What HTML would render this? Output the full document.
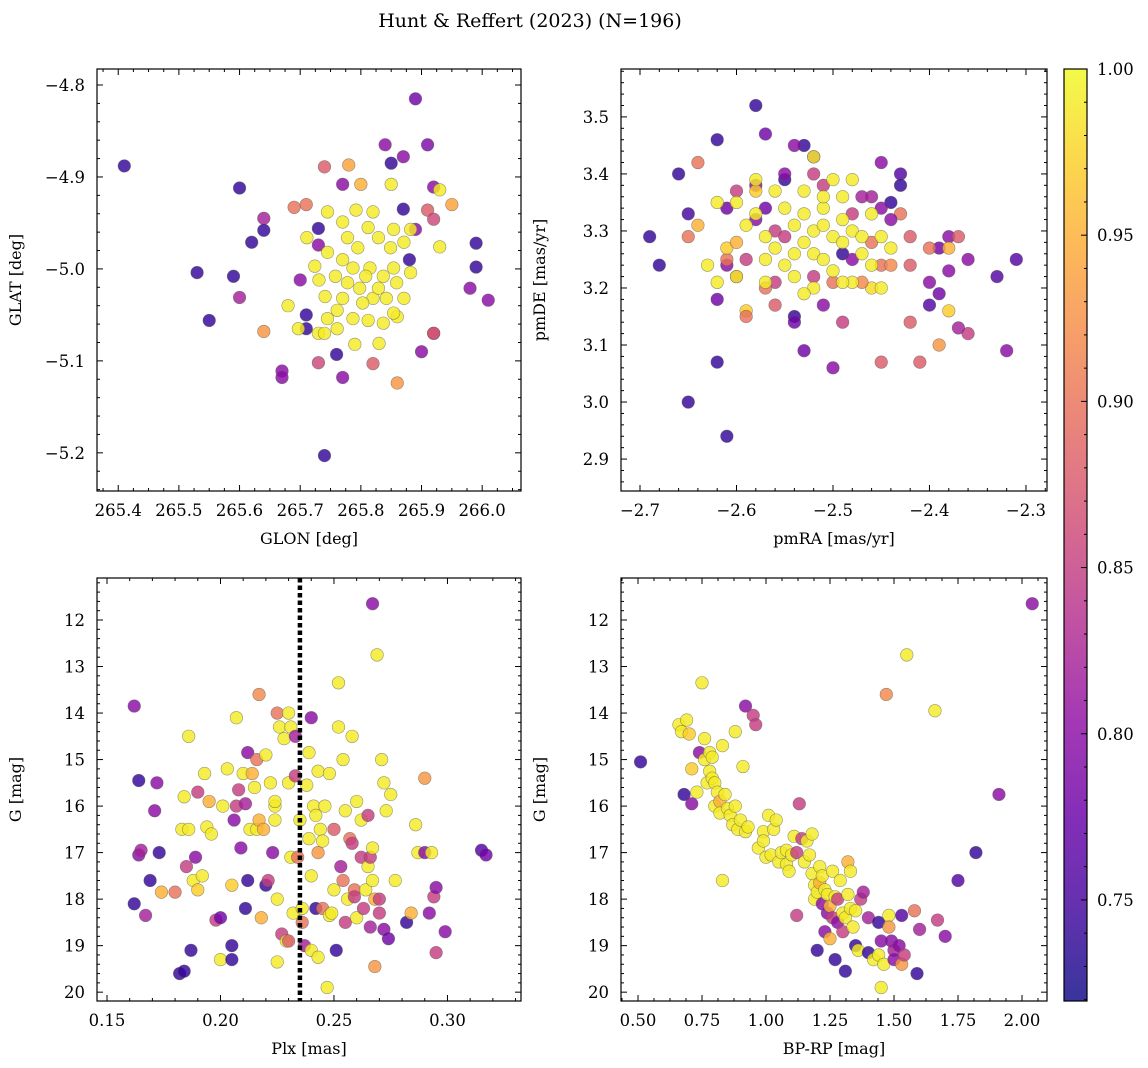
<!DOCTYPE html>
<html><head><meta charset="utf-8"><style>
html,body{margin:0;padding:0;background:#fff;}
svg{display:block;font-family:"DejaVu Serif","Liberation Serif",serif;}
</style></head><body>
<svg id="fig" width="1148" height="1068" xmlns="http://www.w3.org/2000/svg">
<text x="530" y="27" text-anchor="middle" font-size="19">Hunt &amp; Reffert (2023) (N=196)</text>
</svg>
<script>
// Panel 1: GLON vs GLAT
const p1x=[265.41,265.89,265.91,265.60,265.55,265.53,265.59,265.60,265.62,265.64,265.64,265.64,265.67,265.67,265.74,265.69,265.71,265.70,265.68,265.71,265.71,265.73,265.74,265.73,265.73,265.74,265.78,265.77,265.80,265.73,265.76,265.77,265.79,265.82,265.84,265.85,265.87,265.85,265.86,265.87,265.89,265.88,265.92,265.93,265.95,265.91,265.92,265.93,265.99,265.99,265.98,266.01,265.90,265.92,265.92,265.86,265.83,
265.745,265.770,265.792,265.812,265.829,265.854,265.871,265.882,265.871,265.854,265.837,265.812,265.787,265.761,265.741,265.731,265.724,265.745,265.770,265.795,265.815,265.837,265.859,265.842,265.820,265.798,265.778,265.758,265.787,265.808,265.829,265.854,265.778,265.803,265.770,265.745,265.820,265.849,265.761,265.697,265.882,265.711];
const p1y=[-4.888,-4.815,-4.865,-4.912,-5.056,-5.004,-5.008,-5.031,-4.971,-4.945,-4.958,-5.068,-5.111,-5.118,-5.203,-4.933,-4.930,-5.012,-5.040,-5.050,-5.065,-5.070,-5.070,-4.956,-4.974,-4.889,-4.887,-4.908,-4.908,-5.102,-5.093,-5.118,-5.082,-5.103,-4.865,-4.885,-4.878,-4.908,-5.124,-4.935,-4.957,-4.990,-4.911,-4.914,-4.930,-4.936,-4.946,-4.976,-4.972,-4.998,-5.021,-5.034,-5.090,-5.070,-5.070,-5.052,-5.081,
-4.938,-4.949,-4.936,-4.955,-4.966,-4.957,-4.971,-5.004,-5.032,-5.048,-5.059,-5.056,-5.054,-5.045,-5.030,-5.012,-4.997,-4.982,-4.990,-4.977,-4.999,-5.008,-5.015,-5.032,-5.032,-5.021,-5.015,-5.008,-4.999,-5.008,-5.021,-4.999,-4.966,-5.037,-5.032,-5.054,-4.938,-4.977,-5.065,-5.065,-4.957,-4.966];
const p1p=[.74,.78,.79,.74,.74,.74,.74,.82,.74,.82,.74,.93,.8,.8,.74,.9,.9,.8,.99,.74,.74,.99,.99,.74,.8,.88,.94,.8,.95,.86,.74,.8,.99,.88,.8,.74,.8,.99,.93,.74,.8,.74,.8,.99,.94,.88,.86,.99,.74,.74,.8,.8,.8,.8,.88,.99,.99,
.99,.99,.99,.99,.99,.99,.99,.99,.99,.99,.99,.99,.99,.99,.99,.99,.99,.99,.99,.99,.99,.99,.99,.99,.99,.99,.99,.99,.99,.99,.99,.99,.99,.99,.99,.99,.99,.99,.99,.99,.99,.99];
// Panel 2: pmRA vs pmDE
const p2x=[-2.69,-2.68,-2.66,-2.65,-2.64,-2.65,-2.64,-2.65,-2.61,-2.62,-2.62,-2.62,-2.58,-2.57,-2.53,-2.52,-2.54,-2.60,-2.61,-2.61,-2.60,-2.58,-2.55,-2.54,-2.54,-2.53,-2.50,-2.49,-2.45,-2.41,-2.39,-2.36,-2.32,-2.31,-2.33,-2.36,-2.38,-2.37,-2.38,-2.37,-2.39,-2.40,-2.42,-2.42,-2.42,-2.40,-2.39,-2.43,-2.43,-2.44,-2.45,-2.45,-2.46,-2.43,-2.44,-2.45,-2.46,-2.38,-2.38,-2.40,-2.47,-2.48,-2.49,-2.51,-2.52,-2.55,-2.57,-2.58,-2.56,-2.55,-2.56,-2.56,-2.57,-2.59,-2.61,-2.61,-2.59,-2.59,-2.60,-2.58,-2.51,-2.52,-2.50,-2.47,-2.48,-2.46,-2.44,
-2.63,-2.62,-2.60,-2.59,-2.58,-2.57,-2.57,-2.56,-2.55,-2.54,-2.54,-2.53,-2.53,-2.53,-2.52,-2.52,-2.52,-2.51,-2.51,-2.51,-2.50,-2.50,-2.50,-2.49,-2.49,-2.49,-2.48,-2.48,-2.47,-2.47,-2.46,-2.46,-2.45,-2.45,-2.44,-2.53,-2.55,-2.56,-2.58,-2.52,-2.60,-2.62,-2.54,-2.57,-2.49,-2.51,-2.48];
const p2y=[3.29,3.24,3.40,3.33,3.42,3.29,3.31,3.00,2.94,3.07,3.18,3.46,3.52,3.47,3.45,3.43,3.45,3.37,3.34,3.24,3.22,3.38,3.39,3.15,3.14,3.09,3.06,3.14,3.07,3.07,3.10,3.12,3.09,3.25,3.22,3.25,3.23,3.13,3.29,3.29,3.19,3.21,3.14,3.24,3.29,3.17,3.27,3.40,3.38,3.35,3.42,3.34,3.36,3.33,3.32,3.24,3.20,3.27,3.16,3.27,3.36,3.33,3.26,3.38,3.40,3.40,3.34,3.32,3.30,3.29,3.21,3.17,3.20,3.25,3.25,3.27,3.16,3.15,3.28,3.37,3.17,3.22,3.21,3.21,3.25,3.28,3.24,
3.24,3.35,3.35,3.31,3.33,3.29,3.25,3.27,3.24,3.22,3.31,3.37,3.33,3.28,3.30,3.26,3.20,3.34,3.31,3.25,3.23,3.29,3.39,3.36,3.32,3.28,3.30,3.21,3.29,3.26,3.33,3.24,3.29,3.20,3.27,3.19,3.34,3.37,3.39,3.43,3.22,3.21,3.26,3.21,3.21,3.36,3.39];
const p2p=[.74,.74,.74,.75,.9,.9,.95,.74,.74,.74,.78,.74,.74,.78,.74,.8,.8,.85,.78,.8,.85,.8,.74,.74,.78,.78,.8,.85,.88,.88,.93,.85,.8,.76,.76,.8,.8,.82,.8,.88,.78,.8,.88,.88,.88,.76,.78,.76,.74,.74,.8,.8,.82,.9,.8,.9,.98,.95,.97,.9,.82,.85,.74,.85,.85,.8,.78,.8,.85,.85,.85,.88,.9,.85,.9,.97,.97,.9,.95,.97,.8,.85,.9,.92,.8,.9,.92,
.99,.99,.99,.99,.99,.99,.99,.99,.99,.99,.99,.99,.99,.99,.99,.99,.99,.99,.99,.99,.99,.99,.99,.99,.99,.99,.99,.99,.99,.99,.99,.99,.99,.99,.99,.99,.99,.99,.99,.99,.99,.99,.99,.99,.99,.99,.99];
// Panel 3: Plx vs G
const p3x=[0.162,0.162,0.164,0.164,0.165,0.167,0.169,0.171,0.172,0.173,0.174,0.180,0.182,0.184,0.183,0.186,0.184,0.186,0.187,0.188,0.189,0.185,0.190,0.190,0.192,0.193,0.194,0.195,0.196,0.198,0.200,0.200,0.201,0.203,0.205,0.205,0.205,0.206,0.207,0.207,0.208,0.209,0.210,0.211,0.211,0.212,0.212,0.213,0.214,0.215,0.216,0.216,0.217,0.217,0.218,0.219,0.220,0.220,0.221,0.222,0.223,0.224,0.224,0.224,0.225,0.225,0.225,0.226,0.227,0.228,0.229,0.230,0.231,0.230,0.230,0.231,0.232,0.233,0.233,0.234,0.235,0.236,0.236,0.237,0.238,0.239,0.239,0.240,0.240,0.240,0.241,0.242,0.242,0.243,0.243,0.243,0.244,0.245,0.245,0.246,0.247,0.248,0.248,0.249,0.250,0.250,0.251,0.252,0.252,0.253,0.254,0.254,0.255,0.255,0.256,0.257,0.258,0.258,0.259,0.259,0.260,0.260,0.262,0.262,0.263,0.264,0.265,0.265,0.266,0.266,0.267,0.267,0.267,0.268,0.268,0.269,0.270,0.270,0.271,0.272,0.272,0.273,0.274,0.275,0.277,0.282,0.284,0.286,0.287,0.290,0.290,0.292,0.293,0.294,0.295,0.295,0.299,0.315,0.317];
const p3y=[13.85,18.1,15.45,17.05,16.95,18.35,17.6,16.1,15.5,17.0,17.85,17.85,19.6,19.55,16.5,16.5,15.8,14.5,19.1,17.6,17.1,17.3,15.7,17.8,17.5,15.3,16.45,15.9,16.6,18.45,18.4,19.3,16.0,15.2,17.7,19.0,19.3,16.3,14.1,16.0,15.65,16.9,15.3,15.95,18.2,17.6,14.85,16.5,15.3,15.6,15.0,16.5,16.3,13.6,18.4,16.5,14.9,17.7,17.6,15.5,17.0,16.3,16.0,15.9,19.35,18.0,14.0,14.3,18.75,14.55,18.9,14.0,14.3,15.5,18.9,17.1,18.3,14.5,15.35,17.1,16.3,18.5,18.2,19.0,15.55,14.85,16.7,14.1,19.1,17.5,16.0,16.2,18.2,19.25,15.25,17.0,16.5,18.2,16.75,16.0,19.9,15.3,18.35,18.3,17.8,16.5,19.1,14.3,13.35,17.3,17.6,15.0,16.1,18.5,18.0,16.7,16.8,14.5,17.8,17.95,15.9,18.4,16.3,17.1,18.2,17.8,17.3,16.2,18.6,17.1,17.6,16.9,11.65,19.45,18.0,12.75,18.3,18.0,15.0,15.5,18.65,16.1,18.85,15.75,17.6,18.5,18.3,16.4,17.0,15.4,17.0,18.3,17.0,17.95,17.75,19.15,18.7,16.95,17.05];
const p3p=[.8,.74,.74,.8,.82,.82,.74,.8,.8,.74,.95,.9,.74,.74,.99,.99,.99,.99,.74,.99,.8,.85,.85,.97,.99,.99,.99,.95,.99,.85,.78,.99,.99,.99,.97,.74,.74,.8,.99,.85,.85,.8,.99,.82,.74,.74,.8,.99,.95,.99,.9,.99,.95,.92,.95,.95,.99,.74,.85,.99,.8,.99,.99,.99,.99,.99,.9,.99,.85,.99,.99,.99,.99,.99,.88,.99,.99,.82,.85,.9,.99,.9,.99,.82,.99,.99,.99,.8,.99,.99,.99,.99,.74,.99,.99,.93,.99,.9,.99,.99,.99,.99,.99,.99,.99,.88,.74,.99,.99,.82,.9,.99,.99,.85,.99,.9,.85,.99,.9,.85,.99,.99,.99,.85,.85,.99,.99,.85,.82,.85,.99,.99,.8,.93,.95,.99,.85,.85,.99,.99,.8,.99,.78,.99,.99,.74,.95,.99,.99,.93,.8,.8,.99,.85,.8,.85,.8,.76,.78];
// Panel 4: BP-RP vs G
const p4x=[0.51,0.66,0.67,0.69,0.70,0.68,0.71,0.71,0.73,0.74,0.75,0.76,0.76,0.77,0.78,0.78,0.79,0.79,0.80,0.80,0.81,0.82,0.82,0.83,0.83,0.84,0.85,0.86,0.87,0.88,0.88,0.89,0.90,0.91,0.92,0.92,0.93,0.95,0.96,0.97,0.99,0.99,1.00,1.01,1.02,1.03,1.04,1.05,1.06,1.08,1.08,1.09,1.10,1.11,1.12,1.12,1.13,1.14,1.15,1.16,1.17,1.18,1.18,1.19,1.19,1.20,1.20,1.21,1.21,1.22,1.22,1.23,1.23,1.24,1.24,1.25,1.25,1.26,1.26,1.27,1.27,1.28,1.28,1.29,1.30,1.30,1.31,1.31,1.32,1.32,1.33,1.33,1.34,1.35,1.35,1.36,1.37,1.38,1.40,1.40,1.42,1.44,1.44,1.45,1.45,1.46,1.47,1.48,1.48,1.49,1.50,1.50,1.52,1.53,1.53,1.54,1.55,1.58,1.59,1.60,1.66,1.67,1.70,1.75,1.82,1.91,2.04];
const p4y=[15.05,14.25,14.4,14.15,14.45,15.75,15.95,15.2,15.7,14.85,13.35,14.55,15.0,15.5,14.85,15.25,15.4,14.95,15.5,16.0,15.7,15.9,16.15,17.6,14.7,15.75,16.05,16.2,16.4,16.0,14.4,16.5,16.3,15.15,13.85,16.55,16.45,14.05,14.25,16.9,16.55,16.75,17.1,16.2,17.05,16.5,16.3,17.2,17.0,17.25,16.95,17.4,17.05,16.65,18.35,17.0,15.95,16.7,17.2,16.75,17.05,17.45,16.6,17.7,18.0,19.1,17.85,17.3,17.65,18.1,17.5,18.7,17.8,18.3,17.9,18.85,18.15,17.4,18.4,19.3,17.95,18.0,18.5,17.6,18.3,18.7,19.55,18.4,17.2,17.9,17.4,18.2,18.6,19.0,18.25,19.1,18.0,17.85,18.4,19.15,19.3,19.2,18.5,18.9,19.9,19.4,13.6,18.35,18.6,18.9,19.1,19.3,19.0,19.4,18.35,19.2,12.75,18.25,19.6,18.65,13.95,18.45,18.8,17.6,17.0,15.75,11.65];
const p4p=[.74,.99,.99,.99,.97,.74,.8,.97,.99,.8,.99,.99,.99,.99,.99,.99,.99,.99,.99,.99,.99,.95,.99,.99,.99,.99,.99,.99,.99,.99,.99,.99,.99,.99,.8,.99,.99,.85,.85,.99,.99,.99,.99,.99,.99,.99,.99,.99,.99,.99,.99,.99,.99,.99,.85,.85,.85,.85,.99,.99,.99,.99,.99,.99,.99,.74,.99,.99,.95,.8,.99,.8,.99,.8,.99,.95,.95,.99,.85,.74,.99,.85,.8,.99,.99,.85,.74,.99,.95,.99,.99,.99,.99,.74,.99,.99,.85,.82,.82,.74,.99,.99,.74,.8,.99,.99,.92,.99,.93,.8,.82,.8,.8,.93,.76,.85,.99,.9,.74,.82,.99,.85,.8,.76,.74,.8,.8];
const plxLine=0.235;
const cbTicks=[0.75,0.80,0.85,0.90,0.95,1.00];
const VMIN=0.7196, VMAX=1.0;

const NS="http://www.w3.org/2000/svg";
const fig=document.getElementById('fig');
function mk(tag,attrs,parent){const e=document.createElementNS(NS,tag);for(const k in attrs)e.setAttribute(k,attrs[k]);(parent||fig).appendChild(e);return e;}
const stops=[[13,8,135],[65,4,157],[106,0,168],[143,13,164],[177,42,144],[204,71,120],[225,100,98],[242,132,75],[252,166,54],[252,206,37],[240,249,33]];
function plasma(t){t=Math.max(0,Math.min(1,t));const f=t*10,i=Math.min(9,Math.floor(f)),r=f-i;const a=stops[i],b=stops[i+1];return 'rgb('+[0,1,2].map(k=>Math.round(a[k]+(b[k]-a[k])*r)).join(',')+')';}
function cmap(p){return plasma((p-VMIN)/(VMAX-VMIN));}

function panel(o){
  const g=mk('g',{});
  
  
  const X=v=>o.L+(v-o.x0)/(o.x1-o.x0)*(o.R-o.L);
  const Y=v=>o.T+(v-o.y0)/(o.y1-o.y0)*(o.B-o.T);
  const cid='clip'+o.name;
  const cp=mk('clipPath',{id:cid},g);mk('rect',{x:o.L,y:o.T,width:o.R-o.L,height:o.B-o.T},cp);
  const pts=mk('g',{'clip-path':'url(#'+cid+')'},g);
  
  
  for(let i=0;i<o.xs.length;i++){
    const c=mk('circle',{cx:X(o.xs[i]),cy:Y(o.ys[i]),r:6.3,fill:cmap(o.ps[i]),'fill-opacity':0.82,stroke:'#555','stroke-opacity':0.6,'stroke-width':0.6},pts);
    
    
  }
  if(o.vline!==undefined){
    const l=mk('line',{x1:X(o.vline),x2:X(o.vline),y1:o.T,y2:o.B,stroke:'#000','stroke-width':4.5,'stroke-dasharray':'4.5,3'},g);
    
    
  }
  const tk=mk('g',{stroke:'#000','stroke-width':1},g);
  const xa=Math.min(o.x0,o.x1),xb=Math.max(o.x0,o.x1);
  for(let v=Math.ceil(xa/o.xmin-1e-6)*o.xmin;v<=xb+1e-9;v+=o.xmin){
    const major=Math.abs(v/o.xmaj-Math.round(v/o.xmaj))<1e-6,len=major?6:3,x=X(v);
    mk('line',{x1:x,x2:x,y1:o.B,y2:o.B-len},tk);mk('line',{x1:x,x2:x,y1:o.T,y2:o.T+len},tk);
    if(major){const t=mk('text',{x:x,y:o.B+25,'text-anchor':'middle','font-size':16.5,stroke:'none'},g);t.textContent=o.xf(v);
      }
  }
  const ya=Math.min(o.y0,o.y1),yb=Math.max(o.y0,o.y1);
  for(let v=Math.ceil(ya/o.ymin-1e-6)*o.ymin;v<=yb+1e-9;v+=o.ymin){
    const major=Math.abs(v/o.ymaj-Math.round(v/o.ymaj))<1e-6,len=major?6:3,y=Y(v);
    mk('line',{x1:o.L,x2:o.L+len,y1:y,y2:y},tk);mk('line',{x1:o.R,x2:o.R-len,y1:y,y2:y},tk);
    if(major){const t=mk('text',{x:o.L-12,y:y+6,'text-anchor':'end','font-size':16.5,stroke:'none'},g);t.textContent=o.yf(v);
      }
  }
  mk('rect',{x:o.L,y:o.T,width:o.R-o.L,height:o.B-o.T,fill:'none',stroke:'#000','stroke-width':1.2},g);
  const xl=mk('text',{x:(o.L+o.R)/2,y:o.B+53,'text-anchor':'middle','font-size':16},g);xl.textContent=o.xlab;
  
  const yx=o.L-76,yy=(o.T+o.B)/2;
  const yl=mk('text',{x:yx,y:yy,'text-anchor':'middle','font-size':16,transform:'rotate(-90 '+yx+' '+yy+')'},g);yl.textContent=o.ylab;
  
}
const neg=d=>v=>(v<0?'\u2212':'')+Math.abs(v).toFixed(d);
panel({name:'glon-glat-panel',L:97,R:521,T:69,B:491,x0:265.365,x1:266.064,y0:-4.7826,y1:-5.2415,xmaj:0.1,xmin:0.025,ymaj:0.1,ymin:0.02,xf:neg(1),yf:neg(1),xs:p1x,ys:p1y,ps:p1p,xlab:'GLON [deg]',ylab:'GLAT [deg]'});
panel({name:'pm-panel',L:621,R:1047,T:69,B:491,x0:-2.7197,x1:-2.2782,y0:3.584,y1:2.844,xmaj:0.1,xmin:0.02,ymaj:0.1,ymin:0.02,xf:neg(1),yf:neg(1),xs:p2x,ys:p2y,ps:p2p,xlab:'pmRA [mas/yr]',ylab:'pmDE [mas/yr]'});
panel({name:'plx-g-panel',L:97,R:521,T:578,B:1001,x0:0.1456,x1:0.3324,y0:11.097,y1:20.19,xmaj:0.05,xmin:0.01,ymaj:1,ymin:0.2,xf:neg(2),yf:v=>v.toFixed(0),xs:p3x,ys:p3y,ps:p3p,xlab:'Plx [mas]',ylab:'G [mag]',vline:plxLine});
panel({name:'cmd-panel',L:621,R:1047,T:578,B:1001,x0:0.4336,x1:2.0977,y0:11.097,y1:20.19,xmaj:0.25,xmin:0.0625,ymaj:1,ymin:0.2,xf:neg(2),yf:v=>v.toFixed(0),xs:p4x,ys:p4y,ps:p4p,xlab:'BP-RP [mag]',ylab:'G [mag]'});

// colorbar
const cb=mk('g',{});


const defs=mk('defs',{},cb);
const lg=mk('linearGradient',{id:'cbg',x1:0,y1:1,x2:0,y2:0},defs);
for(let i=0;i<=20;i++){mk('stop',{offset:i/20,'stop-color':plasma(i/20),'stop-opacity':0.82},lg);}
const CL=1064,CR=1087,CT=69,CB=1001;
mk('rect',{x:CL,y:CT,width:CR-CL,height:CB-CT,fill:'url(#cbg)'},cb);
const CY=v=>CB-(v-VMIN)/(VMAX-VMIN)*(CB-CT);
for(let k=72;k<=100;k++){const v=k/100,y=CY(v),major=k%5===0;
  mk('line',{x1:CR,x2:CR-(major?6:3),y1:y,y2:y,stroke:'#000','stroke-width':1},cb);}
cbTicks.forEach(v=>{const t=mk('text',{x:CR+10,y:CY(v)+6,'font-size':16.5},cb);t.textContent=v.toFixed(2);
  });
mk('rect',{x:CL,y:CT,width:CR-CL,height:CB-CT,fill:'none',stroke:'#000','stroke-width':1.2},cb);
</script>
</body></html>
